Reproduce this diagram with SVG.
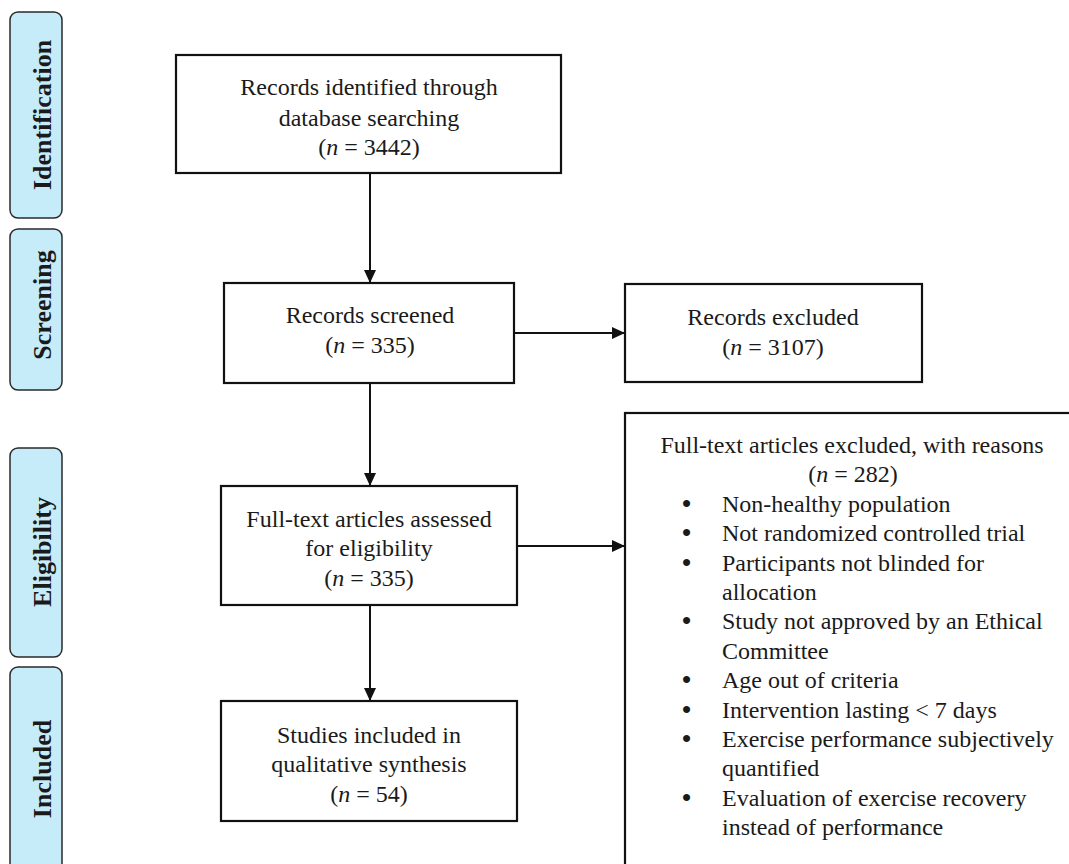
<svg xmlns="http://www.w3.org/2000/svg" width="1069" height="864" viewBox="0 0 1069 864">
<style>
.bg{fill:#ffffff}
.phase rect{fill:#c6ecfa;stroke:#2a2a2a;stroke-width:1.5}
.phase text{font-family:"Liberation Serif","Times New Roman",serif;font-weight:bold;font-size:26px;fill:#1a1a1a;text-anchor:middle}
.box rect{fill:#ffffff;stroke:#111111;stroke-width:2.2}
.box text{font-family:"Liberation Serif","Times New Roman",serif;font-size:24px;fill:#1a1a1a;text-anchor:middle}
.box text.l{text-anchor:start}
.b{font-size:26px;font-weight:bold}
.it{font-style:italic}
.conn line{stroke:#111111;stroke-width:2}
</style>
<defs>
<marker id="ah" markerWidth="13" markerHeight="12" refX="13" refY="6" orient="auto" markerUnits="userSpaceOnUse">
<path d="M0,0 L13,6 L0,12 Z" fill="#111111"/>
</marker>
</defs>
<rect class="bg" x="0" y="0" width="1069" height="864"/>

<g id="phase-identification" class="phase">
<rect x="10" y="12" width="52" height="206" rx="8"/>
<text transform="translate(51,115) rotate(-90)">Identification</text>
</g>
<g id="phase-screening" class="phase">
<rect x="10" y="229" width="52" height="161" rx="8"/>
<text transform="translate(51,305) rotate(-90)">Screening</text>
</g>
<g id="phase-eligibility" class="phase">
<rect x="10" y="448" width="52" height="209" rx="8"/>
<text transform="translate(51,552) rotate(-90)">Eligibility</text>
</g>
<g id="phase-included" class="phase">
<rect x="10" y="667" width="52" height="220" rx="8"/>
<text transform="translate(51,769) rotate(-90)">Included</text>
</g>

<g id="connectors" class="conn">
<line x1="370" y1="173" x2="370" y2="283" marker-end="url(#ah)"/>
<line x1="370" y1="383" x2="370" y2="486" marker-end="url(#ah)"/>
<line x1="514" y1="333" x2="625" y2="333" marker-end="url(#ah)"/>
<line x1="370" y1="605" x2="370" y2="701" marker-end="url(#ah)"/>
<line x1="517" y1="546" x2="625" y2="546" marker-end="url(#ah)"/>
</g>

<g id="node-identified" class="box">
<rect x="176" y="55" width="385" height="118"/>
<text x="369" y="95">Records identified through</text>
<text x="369" y="126">database searching</text>
<text x="369" y="155">(<tspan class="it">n</tspan> = 3442)</text>
</g>
<g id="node-screened" class="box">
<rect x="224" y="283" width="290" height="100"/>
<text x="370" y="323">Records screened</text>
<text x="370" y="353">(<tspan class="it">n</tspan> = 335)</text>
</g>
<g id="node-excluded" class="box">
<rect x="625" y="284" width="297" height="98"/>
<text x="773" y="325">Records excluded</text>
<text x="773" y="355">(<tspan class="it">n</tspan> = 3107)</text>
</g>
<g id="node-assessed" class="box">
<rect x="221" y="486" width="296" height="119"/>
<text x="369" y="527">Full-text articles assessed</text>
<text x="369" y="556">for eligibility</text>
<text x="369" y="586">(<tspan class="it">n</tspan> = 335)</text>
</g>
<g id="node-included" class="box">
<rect x="221" y="701" width="296" height="120"/>
<text x="369" y="743">Studies included in</text>
<text x="369" y="772">qualitative synthesis</text>
<text x="369" y="802">(<tspan class="it">n</tspan> = 54)</text>
</g>
<g id="node-fulltext-excluded" class="box">
<rect x="625" y="413" width="470" height="480"/>
<text x="852" y="453">Full-text articles excluded, with reasons</text>
<text x="853" y="482">(<tspan class="it">n</tspan> = 282)</text>
<text class="l" x="682" y="512"><tspan class="b">•</tspan><tspan x="722">Non-healthy population</tspan></text>
<text class="l" x="682" y="541"><tspan class="b">•</tspan><tspan x="722">Not randomized controlled trial</tspan></text>
<text class="l" x="682" y="571"><tspan class="b">•</tspan><tspan x="722">Participants not blinded for</tspan></text>
<text class="l" x="722" y="600">allocation</text>
<text class="l" x="682" y="629"><tspan class="b">•</tspan><tspan x="722">Study not approved by an Ethical</tspan></text>
<text class="l" x="722" y="659">Committee</text>
<text class="l" x="682" y="688"><tspan class="b">•</tspan><tspan x="722">Age out of criteria</tspan></text>
<text class="l" x="682" y="718"><tspan class="b">•</tspan><tspan x="722">Intervention lasting &lt; 7 days</tspan></text>
<text class="l" x="682" y="747"><tspan class="b">•</tspan><tspan x="722">Exercise performance subjectively</tspan></text>
<text class="l" x="722" y="776">quantified</text>
<text class="l" x="682" y="806"><tspan class="b">•</tspan><tspan x="722">Evaluation of exercise recovery</tspan></text>
<text class="l" x="722" y="835">instead of performance</text>
</g>
</svg>
